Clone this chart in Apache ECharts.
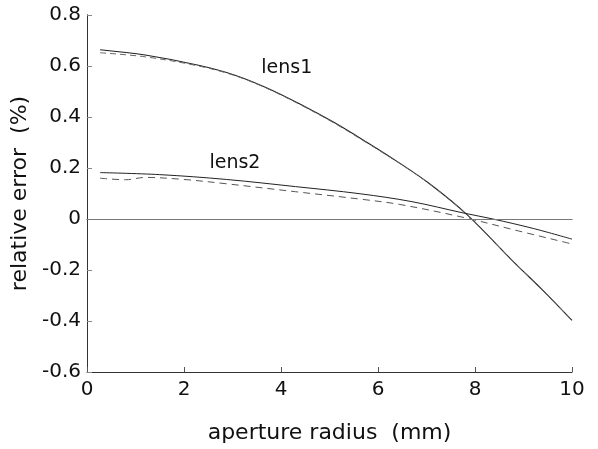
<!DOCTYPE html>
<html><head><meta charset="utf-8">
<script src="https://cdn.jsdelivr.net/npm/echarts@6/dist/echarts.min.js"></script>
<style>html,body{margin:0;padding:0;background:#fff}#c{width:598px;height:449px}</style>
</head><body><div id="c"></div>
<script>
const lens1Solid = [[0.27,0.664],[1.2,0.643],[2.3,0.603],[3.02,0.566],[3.7,0.515],[4.39,0.451],[5.08,0.38],[5.76,0.302],[6.39,0.226],[7.05,0.14],[7.83,0.018],[8.79,-0.167],[9.4,-0.28],[10,-0.398]];
const lens1Dashed = [[0.27,0.652],[1.2,0.636],[2.3,0.6],[3.02,0.564],[3.7,0.513],[4.39,0.449],[5.08,0.378],[5.76,0.3],[6.39,0.225],[7.05,0.139],[7.83,0.017],[8.79,-0.167],[9.4,-0.28],[10,-0.398]];
const lens2Solid = [[0.27,0.182],[1.5,0.174],[2.88,0.155],[4.3,0.127],[5.63,0.099],[6.7,0.068],[7.75,0.024],[8.37,0.0],[9.2,-0.037],[10,-0.079]];
const lens2Dashed = [[0.27,0.16],[0.8,0.154],[1.2,0.163],[2.0,0.155],[2.88,0.138],[4.3,0.107],[5.63,0.078],[6.45,0.057],[7.79,0.005],[8.9,-0.047],[10,-0.098]];
const xTicks = [0,2,4,6,8,10];
const yTicks = [-0.6,-0.4,-0.2,0,0.2,0.4,0.6,0.8];
const annotations = [{name:'lens1', x:4.12, y:0.59},{name:'lens2', x:3.05, y:0.218}];

const font = '"DejaVu Sans", sans-serif';
const chart = echarts.init(document.getElementById('c'), null, {renderer:'canvas'});
const axisLineStyle = {color:'#333', width:1};
const lineCommon = {smooth:0.35, symbol:'none', type:'line'};
chart.setOption({
  animation:false,
  backgroundColor:'#fff',
  grid:{left:87, right:26, top:15, bottom:73, show:false},
  xAxis:[{
    type:'value', min:xTicks[0], max:xTicks[xTicks.length-1], interval:2,
    axisLine:{show:true, onZero:false, lineStyle:axisLineStyle},
    axisTick:{show:true, inside:true, length:5, lineStyle:{color:'#555'}},
    axisLabel:{fontSize:20, color:'#111', fontFamily:font, margin:8},
    splitLine:{show:false},
    name:'aperture radius  (mm)', nameLocation:'middle', nameGap:50,
    nameTextStyle:{fontSize:22, color:'#111', fontFamily:font}
  },{
    type:'value', position:'top', min:0, max:10,
    axisLine:{show:true, lineStyle:axisLineStyle},
    axisTick:{show:false}, axisLabel:{show:false}, splitLine:{show:false}
  }],
  yAxis:[{
    type:'value', min:yTicks[0], max:yTicks[yTicks.length-1], interval:0.2,
    axisLine:{show:true, onZero:false, lineStyle:axisLineStyle},
    axisTick:{show:true, inside:true, length:5, lineStyle:{color:'#888'}},
    axisLabel:{fontSize:20, color:'#111', fontFamily:font, margin:6,
      formatter:v=>{const r=Math.round(v*10)/10; return r===0?'0':String(r);}},
    splitLine:{show:false},
    name:'relative error  (%)', nameLocation:'middle', nameGap:53, nameRotate:90,
    nameTextStyle:{fontSize:22, color:'#111', fontFamily:font}
  },{
    type:'value', position:'right', min:-0.6, max:0.8,
    axisLine:{show:true, lineStyle:axisLineStyle},
    axisTick:{show:false}, axisLabel:{show:false}, splitLine:{show:false}
  }],
  series:[
    Object.assign({}, lineCommon, {data:lens1Solid, lineStyle:{color:'#222', width:1.1},
     markLine:{silent:true, symbol:'none', label:{show:false}, lineStyle:{color:'#777', width:1.2, type:'solid'}, data:[{yAxis:0}]},
     markPoint:{symbol:'circle', symbolSize:1, itemStyle:{color:'rgba(0,0,0,0)'},
       label:{show:true, position:'inside', fontSize:19, color:'#111', fontFamily:font, formatter:p=>p.name},
       data:annotations.map(a=>({name:a.name, coord:[a.x,a.y]}))}}),
    Object.assign({}, lineCommon, {data:lens1Dashed, lineStyle:{color:'#666', width:1, type:[6,4]}}),
    Object.assign({}, lineCommon, {data:lens2Solid, lineStyle:{color:'#222', width:1}}),
    Object.assign({}, lineCommon, {data:lens2Dashed, lineStyle:{color:'#555', width:1, type:[7,5]}})
  ]
});
</script></body></html>
